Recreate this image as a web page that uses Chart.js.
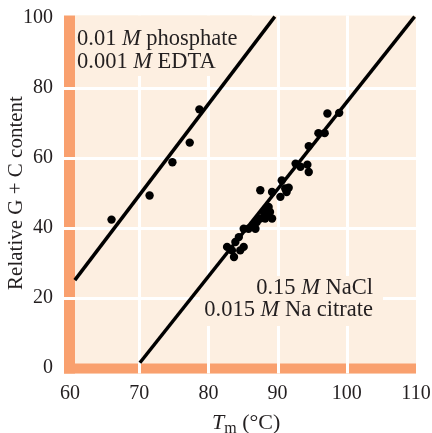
<!DOCTYPE html>
<html>
<head>
<meta charset="utf-8">
<script src="https://cdn.jsdelivr.net/npm/chart.js@4/dist/chart.umd.min.js"></script>
<style>
    html, body { margin: 0; padding: 0; background: #ffffff; }
    #box { width: 432px; height: 433px; position: relative; }
</style>
</head>
<body>
<div id="box"><canvas id="grafico"></canvas></div>
<script>
    /**
     * Dados
     */
    var ticksX = [60, 70, 80, 90, 100, 110];
    var ticksY = [0, 20, 40, 60, 80, 100];

    // 0.01 M phosphate / 0.001 M EDTA
    var tmFosfato = [66.0, 71.5, 74.8, 77.3, 78.7];
    var gcFosfato = [42.4, 49.3, 58.8, 64.4, 73.9];
    var retaFosfatoX = [60.7, 89.6];
    var retaFosfatoY = [25.1, 100.4];

    // 0.15 M NaCl / 0.015 M Na citrate
    var tmNaCl = [97.2, 98.9, 95.9, 96.8, 94.5, 92.6, 93.3, 94.3, 94.5, 90.6, 91.1, 91.6,
        91.3, 90.4, 89.2, 87.5, 88.7, 88.9, 88.0, 89.2, 88.2, 87.5, 87.0, 86.5,
        86.8, 85.8, 85.1, 84.4, 83.9, 82.7, 85.1, 84.6, 83.4, 83.7, 88.4];
    var gcNaCl = [72.7, 72.9, 67.1, 67.1, 63.4, 58.4, 57.5, 58.1, 56.0, 53.6, 51.3, 51.5,
        50.3, 48.9, 50.3, 50.8, 46.0, 44.6, 44.6, 42.7, 42.7, 42.7, 41.7, 40.8,
        39.8, 39.8, 39.8, 37.4, 36.0, 34.6, 34.6, 33.6, 33.6, 31.7, 43.6];
    var retaNaClX = [70.1, 109.8];
    var retaNaClY = [1.5, 100.4];

    var COR_FUNDO = '#fdefe1';
    var COR_FAIXA = '#f9a06e';
    var COR_TEXTO = '#231f20';
    var FONTE = "'Liberation Serif', 'DejaVu Serif', serif";

    /**
     * Métodos Privados
     */
    var montarPontos = function (xs, ys) {
        return xs.map(function (x, i) { return { x: x, y: ys[i] }; });
    };

    // escreve uma linha com partes normais e itálicas, retorna a largura
    var escreverPartes = function (ctx, partes, x, y, tamanho, medir) {
        var total = 0;
        for (var i in partes) {
            ctx.font = (partes[i].italico ? 'italic ' : '') + tamanho + 'px ' + FONTE;
            if (!medir) ctx.fillText(partes[i].t, x + total, y);
            total += ctx.measureText(partes[i].t).width;
        }
        return total;
    };

    var escreverDireita = function (ctx, partes, xDireita, y, tamanho) {
        var largura = escreverPartes(ctx, partes, 0, 0, tamanho, true);
        escreverPartes(ctx, partes, xDireita - largura, y, tamanho, false);
    };

    var fundoPlugin = {
        id: 'fundo',
        beforeDraw: function (chart) {
            var ctx = chart.ctx;
            var sx = chart.scales.x;
            var sy = chart.scales.y;
            var esq = sx.getPixelForValue(60) - 6;
            var dir = sx.getPixelForValue(110);
            var topo = sy.getPixelForValue(100.7);
            var base = sy.getPixelForValue(0) + 5.5;

            ctx.save();
            ctx.fillStyle = COR_FUNDO;
            ctx.fillRect(esq, topo, dir - esq, base - topo);

            ctx.fillStyle = COR_FAIXA;
            ctx.fillRect(esq, topo, 11, base - topo);
            ctx.fillRect(esq, base - 10, dir - esq, 10);

            ctx.strokeStyle = '#ffffff';
            ctx.lineWidth = 3;
            for (var i = 1; i < ticksX.length - 1; i++) {
                var px = Math.round(sx.getPixelForValue(ticksX[i])) + 0.5;
                ctx.beginPath();
                ctx.moveTo(px, topo);
                ctx.lineTo(px, base);
                ctx.stroke();
            }
            for (var j = 1; j < ticksY.length - 1; j++) {
                var py = Math.round(sy.getPixelForValue(ticksY[j])) + 0.5;
                ctx.beginPath();
                ctx.moveTo(esq, py);
                ctx.lineTo(dir, py);
                ctx.stroke();
            }

            // caixas das legendas cobrem a grade
            ctx.fillStyle = COR_FUNDO;
            ctx.fillRect(esq + 11, topo, 252 - esq - 11, 76 - topo);
            ctx.fillRect(200, 276, 183, 50);

            ctx.fillStyle = COR_TEXTO;
            ctx.textBaseline = 'alphabetic';
            escreverPartes(ctx, [{ t: '0.01 ' }, { t: 'M', italico: true }, { t: ' phosphate' }], 77, 45, 22.5);
            escreverPartes(ctx, [{ t: '0.001 ' }, { t: 'M', italico: true }, { t: ' EDTA' }], 77, 68, 22.5);
            escreverDireita(ctx, [{ t: '0.15 ' }, { t: 'M', italico: true }, { t: ' NaCl' }], 373, 294, 22.5);
            escreverDireita(ctx, [{ t: '0.015 ' }, { t: 'M', italico: true }, { t: ' Na citrate' }], 373, 316, 22.5);
            ctx.restore();
        },
        afterDraw: function (chart) {
            var ctx = chart.ctx;
            ctx.save();
            ctx.fillStyle = COR_TEXTO;
            ctx.textBaseline = 'alphabetic';
            var x = 212;
            ctx.font = 'italic 22px ' + FONTE;
            ctx.fillText('T', x, 429);
            x += ctx.measureText('T').width;
            ctx.font = '16px ' + FONTE;
            ctx.fillText('m', x, 433);
            x += ctx.measureText('m').width;
            ctx.font = '22px ' + FONTE;
            ctx.fillText(' (\u00B0C)', x, 429);
            ctx.restore();
        }
    };

    var configGrafico = {
        type: 'scatter',
        data: {
            datasets: [
                {
                    type: 'line',
                    data: montarPontos(retaFosfatoX, retaFosfatoY),
                    borderColor: '#000000',
                    borderWidth: 3.5,
                    pointRadius: 0,
                    clip: false
                },
                {
                    type: 'line',
                    data: montarPontos(retaNaClX, retaNaClY),
                    borderColor: '#000000',
                    borderWidth: 3.5,
                    pointRadius: 0,
                    clip: false
                },
                {
                    data: montarPontos(tmFosfato, gcFosfato),
                    backgroundColor: '#000000',
                    borderWidth: 0,
                    pointRadius: 4.2
                },
                {
                    data: montarPontos(tmNaCl, gcNaCl),
                    backgroundColor: '#000000',
                    borderWidth: 0,
                    pointRadius: 4.2
                }
            ]
        },
        options: {
            responsive: true,
            maintainAspectRatio: false,
            animation: false,
            layout: { padding: 0 },
            plugins: {
                legend: { display: false },
                tooltip: { enabled: false }
            },
            scales: {
                x: {
                    type: 'linear',
                    min: 60,
                    max: 110,
                    afterBuildTicks: function (scale) {
                        scale.ticks = ticksX.map(function (v) { return { value: v }; });
                    },
                    afterFit: function (scale) {
                        scale.height = 65;
                        scale.paddingLeft = 0;
                        scale.paddingRight = 16;
                    },
                    grid: { display: false, drawTicks: false },
                    border: { display: false },
                    ticks: {
                        color: COR_TEXTO,
                        padding: 14,
                        maxRotation: 0,
                        font: { family: FONTE, size: 20 }
                    }
                },
                y: {
                    type: 'linear',
                    min: 0,
                    max: 100,
                    afterBuildTicks: function (scale) {
                        scale.ticks = ticksY.map(function (v) { return { value: v }; });
                    },
                    afterFit: function (scale) {
                        scale.width = 70;
                        scale.paddingTop = 18;
                        scale.paddingBottom = 0;
                    },
                    grid: { display: false, drawTicks: false },
                    border: { display: false },
                    ticks: {
                        color: COR_TEXTO,
                        padding: 17,
                        font: { family: FONTE, size: 20 }
                    },
                    title: {
                        display: true,
                        text: 'Relative G + C content',
                        color: COR_TEXTO,
                        padding: { top: 4, bottom: 0 },
                        font: { family: FONTE, size: 21 }
                    }
                }
            }
        },
        plugins: [fundoPlugin]
    };

    new Chart(document.getElementById('grafico').getContext('2d'), configGrafico);
</script>
</body>
</html>
